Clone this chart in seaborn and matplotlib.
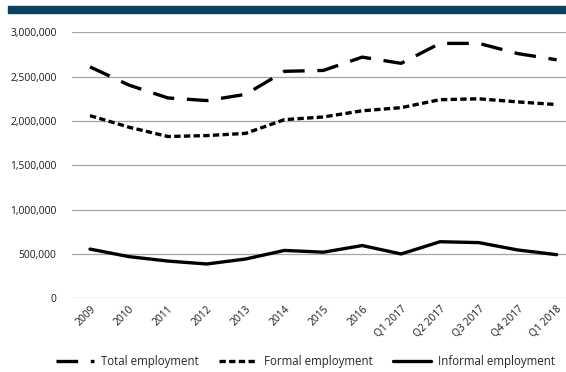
import matplotlib
matplotlib.use("Agg")
import matplotlib.pyplot as plt
import seaborn as sns
import pandas as pd
from matplotlib.ticker import FuncFormatter, MultipleLocator
from matplotlib.patches import Rectangle
from matplotlib.lines import Line2D

periods = ["2009", "2010", "2011", "2012", "2013", "2014", "2015", "2016",
           "Q1 2017", "Q2 2017", "Q3 2017", "Q4 2017", "Q1 2018"]
total = [2610000, 2405000, 2260000, 2230000, 2300000, 2560000, 2570000,
         2720000, 2650000, 2875000, 2875000, 2760000, 2690000]
formal = [2060000, 1930000, 1825000, 1835000, 1860000, 2015000, 2045000,
          2115000, 2150000, 2240000, 2250000, 2215000, 2185000]
informal = [555000, 470000, 420000, 387000, 443000, 540000, 520000,
            595000, 500000, 638000, 628000, 545000, 492000]
series_names = ["Total employment", "Formal employment", "Informal employment"]

df = pd.concat([
    pd.DataFrame({"period": periods, "value": v, "series": n})
    for n, v in zip(series_names, [total, formal, informal])
], ignore_index=True)

sns.set_style("white")
plt.rcParams["font.family"] = ["Open Sans", "DejaVu Sans"]

LW = 2.4
TOTAL_DASH = (6.5, 3.8)
FORMAL_DASH = (1.9, 1.0)

fig = plt.figure(figsize=(5.66, 3.72), dpi=100)
ax = fig.add_axes([72 / 566, 73.7 / 372, 494 / 566, 266 / 372])

sns.lineplot(data=df, x="period", y="value", hue="series", style="series",
             palette=["black"] * 3,
             dashes={"Total employment": TOTAL_DASH,
                     "Formal employment": FORMAL_DASH,
                     "Informal employment": ""},
             linewidth=LW, sort=False, ax=ax, legend=False)

ax.set_ylim(0, 3000000)
ax.set_xlim(-0.463, 12.24)
ax.yaxis.set_major_locator(MultipleLocator(500000))
ax.yaxis.set_major_formatter(FuncFormatter(lambda v, p: f"{int(v):,}"))
ax.grid(axis="y", color="#a6a6a6", linewidth=0.9)
ax.grid(axis="x", visible=False)
for s in ax.spines.values():
    s.set_visible(False)
ax.set_xlabel("")
ax.set_ylabel("")
ax.tick_params(axis="y", length=0, pad=11, labelsize=7.4, colors="#1a1a1a")
ax.tick_params(axis="x", length=0, pad=4, labelsize=7.4, colors="#1a1a1a")
ax.set_xticks(range(len(periods)))
ax.set_xticklabels(periods, rotation=45, ha="right", rotation_mode="anchor")

# top banner bar
fig.patches.append(Rectangle((8 / 566, 1 - 13 / 372), 1, 7 / 372,
                             transform=fig.transFigure, color="#0b405f",
                             zorder=0))

handles = [
    Line2D([], [], color="black", lw=LW, dashes=TOTAL_DASH),
    Line2D([], [], color="black", lw=LW, dashes=FORMAL_DASH),
    Line2D([], [], color="black", lw=LW),
]
fig.legend(handles, series_names, loc="center", bbox_to_anchor=(0.54, 10.5 / 372),
           ncol=3, frameon=False, fontsize=8.3, handlelength=3.3,
           columnspacing=1.75, handletextpad=0.6, borderpad=0, borderaxespad=0)

fig.savefig("out.png", dpi=100)
